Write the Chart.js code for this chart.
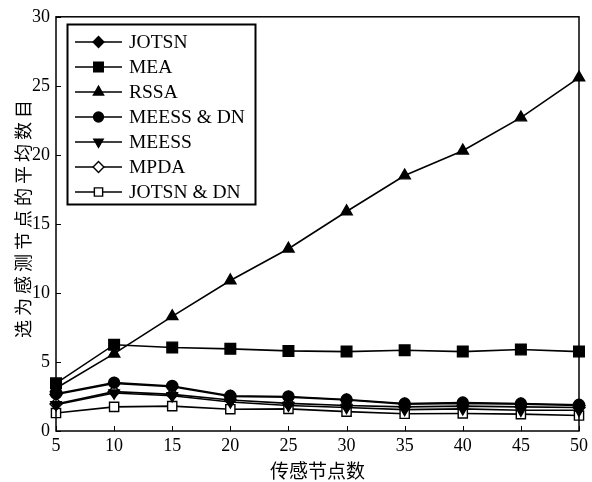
<!DOCTYPE html>
<html>
<head>
<meta charset="utf-8">
<script src="https://cdn.jsdelivr.net/npm/chart.js@4/dist/chart.umd.min.js"></script>
<style>
html,body{margin:0;padding:0;background:#fff;}
#wrap{width:592px;height:482px;}
</style>
</head>
<body>
<div id="wrap"><canvas id="c" width="592" height="482"></canvas></div>
<script>
const nodeCounts = [5, 10, 15, 20, 25, 30, 35, 40, 45, 50];
const seriesNames = ['JOTSN', 'MEA', 'RSSA', 'MEESS & DN', 'MEESS', 'MPDA', 'JOTSN & DN'];
const jotsn    = [2.65, 3.45, 3.2, 2.5, 2.45, 2.25, 1.95, 2.0, 1.95, 1.85];
const mea      = [3.45, 6.25, 6.05, 5.95, 5.8, 5.75, 5.85, 5.75, 5.9, 5.75];
const rssa     = [3.1, 5.6, 8.3, 10.9, 13.2, 15.9, 18.5, 20.3, 22.7, 25.6];
const meessDn  = [2.7, 3.5, 3.26, 2.55, 2.5, 2.28, 1.99, 2.06, 1.99, 1.9];
const meess    = [1.9, 2.75, 2.55, 2.1, 1.85, 1.7, 1.55, 1.6, 1.5, 1.5];
const mpda     = [1.95, 2.85, 2.65, 2.25, 2.0, 1.85, 1.75, 1.8, 1.75, 1.7];
const jotsnDn  = [1.3, 1.75, 1.8, 1.58, 1.6, 1.4, 1.25, 1.27, 1.22, 1.12];
const yTicks = [0, 5, 10, 15, 20, 25, 30];
const xTitle = '传感节点数';
const yTitle = '选为感测节点的平均数目';

const allValues = [jotsn, mea, rssa, meessDn, meess, mpda, jotsnDn];
const styles = [
  {pointStyle:'rectRot', radius:6, fill:'#000', rotation:0, order:10},
  {pointStyle:'rect', radius:7.5, fill:'#000', rotation:0, order:5},
  {pointStyle:'triangle', radius:6.5, fill:'#000', rotation:0, order:4},
  {pointStyle:'circle', radius:5.5, fill:'#000', rotation:0, order:1},
  {pointStyle:'triangle', radius:6, fill:'#000', rotation:180, order:3},
  {pointStyle:'rectRot', radius:6, fill:'#fff', rotation:0, order:6},
  {pointStyle:'rect', radius:6.5, fill:'#fff', rotation:0, order:7}
];

const datasets = seriesNames.map((name, i) => ({
  label: name,
  data: nodeCounts.map((x, j) => ({x: x, y: allValues[i][j]})),
  borderColor: '#000',
  borderWidth: 1.6,
  backgroundColor: styles[i].fill,
  pointBackgroundColor: styles[i].fill,
  pointBorderColor: '#000',
  pointBorderWidth: 1.4,
  pointStyle: styles[i].pointStyle,
  pointRadius: styles[i].radius,
  pointRotation: styles[i].rotation,
  tension: 0,
  fill: false,
  clip: false,
  order: styles[i].order
}));

const framePlugin = {
  id: 'frame',
  afterDatasetsDraw(chart) {
    const ctx = chart.ctx;
    const a = chart.chartArea;
    const xs = chart.scales.x, ys = chart.scales.y;
    ctx.save();
    ctx.strokeStyle = '#000';
    ctx.lineWidth = 1.5;
    ctx.strokeRect(a.left, a.top, a.right - a.left, a.bottom - a.top);
    ctx.lineWidth = 1;
    ctx.beginPath();
    xs.ticks.forEach(t => {
      const px = Math.round(xs.getPixelForValue(t.value)) + 0.5;
      ctx.moveTo(px, a.bottom);
      ctx.lineTo(px, a.bottom - 5);
    });
    ys.ticks.forEach(t => {
      const py = Math.round(ys.getPixelForValue(t.value)) + 0.5;
      ctx.moveTo(a.left, py);
      ctx.lineTo(a.left + 5, py);
    });
    ctx.stroke();

    // y axis title (with letter spacing like the reference)
    ctx.save();
    ctx.translate(23, (a.top + a.bottom) / 2 - 5);
    ctx.rotate(-Math.PI / 2);
    ctx.font = '18px "Noto Sans CJK SC", sans-serif';
    try { ctx.letterSpacing = '4px'; } catch (e) {}
    ctx.textAlign = 'center';
    ctx.textBaseline = 'middle';
    ctx.fillStyle = '#000';
    ctx.fillText(yTitle, 2, 0);
    ctx.restore();

    // legend box
    const bx = 67.5, by = 24.5, bw = 188, bh = 180;
    ctx.fillStyle = '#fff';
    ctx.fillRect(bx, by, bw, bh);
    ctx.lineWidth = 2;
    ctx.strokeRect(bx, by, bw, bh);
    ctx.font = '19.5px "Liberation Serif", serif';
    ctx.textBaseline = 'middle';
    ctx.textAlign = 'left';
    chart.data.datasets.forEach((ds, i) => {
      const cy = 42 + i * 25;
      ctx.strokeStyle = '#000';
      ctx.lineWidth = 1.6;
      ctx.beginPath();
      ctx.moveTo(75, cy);
      ctx.lineTo(122, cy);
      ctx.stroke();
      ctx.fillStyle = ds.pointBackgroundColor;
      ctx.lineWidth = 1.4;
      Chart.helpers.drawPoint(ctx, {
        pointStyle: ds.pointStyle,
        radius: ds.pointRadius * 0.9,
        rotation: ds.pointRotation,
        borderWidth: 1.4
      }, 98.5, cy);
      ctx.fillStyle = '#000';
      ctx.fillText(ds.label, 129, cy + 1);
    });
    ctx.restore();
  }
};

new Chart(document.getElementById('c'), {
  type: 'line',
  data: { datasets: datasets },
  options: {
    responsive: false,
    animation: false,
    events: [],
    layout: { padding: { left: 0, right: 9, top: 14, bottom: 0 } },
    plugins: { legend: { display: false }, tooltip: { enabled: false } },
    scales: {
      x: {
        type: 'linear',
        min: 5, max: 50,
        afterFit(s) { s.height = 51; },
        afterBuildTicks(s) { s.ticks = nodeCounts.map(v => ({value: v})); },
        grid: { display: false, drawTicks: false },
        border: { display: false },
        ticks: {
          color: '#000', padding: 4, maxRotation: 0, autoSkip: false,
          font: { family: '"Liberation Serif", serif', size: 18 }
        },
        title: {
          display: true, text: xTitle, color: '#000',
          font: { family: '"Noto Sans CJK SC", sans-serif', size: 19 },
          padding: { top: 0, bottom: 0 }
        }
      },
      y: {
        type: 'linear',
        min: 0, max: 30,
        afterFit(s) { s.width = 56; },
        afterBuildTicks(s) { s.ticks = yTicks.map(v => ({value: v})); },
        grid: { display: false, drawTicks: false },
        border: { display: false },
        ticks: {
          color: '#000', padding: 6,
          font: { family: '"Liberation Serif", serif', size: 18 }
        },
        title: { display: false }
      }
    }
  },
  plugins: [framePlugin]
});
</script>
</body>
</html>
